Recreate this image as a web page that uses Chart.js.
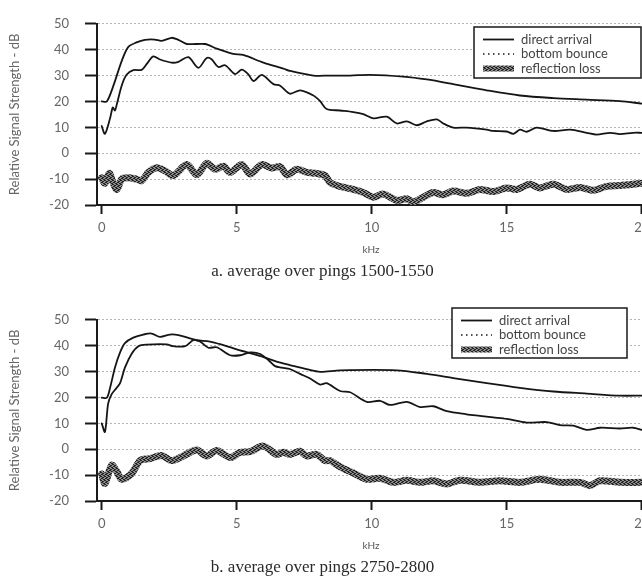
<!DOCTYPE html>
<html>
<head>
<meta charset="utf-8">
<script src="https://cdn.jsdelivr.net/npm/chart.js@4.4.0/dist/chart.umd.min.js"></script>
<style>
html, body { margin: 0; padding: 0; background: #fff; width: 642px; height: 582px; overflow: hidden; }
.panel { position: absolute; left: 0; }
</style>
</head>
<body>
<div class="panel" style="top:0"><canvas id="chartA" width="660" height="291"></canvas></div>
<div class="panel" style="top:296px"><canvas id="chartB" width="660" height="291"></canvas></div>
<script>
// series labels
var seriesNames = ['direct arrival', 'bottom bounce', 'reflection loss'];
var yTicks = [-20, -10, 0, 10, 20, 30, 40, 50];
var xTicks = [0, 5, 10, 15, 20];

// a. pings 1500-1550
var aDirKHz = [0, 0.19, 0.43, 0.74, 0.98, 1.29, 1.6, 1.97, 2.22, 2.59, 2.84, 3.15, 3.83, 4.26, 4.87, 5.24, 5.99, 6.73, 6.97, 7.84, 8.46, 9.2, 9.94, 11.17, 12.04, 13.02, 14.26, 15.49, 16.73, 17.96, 19.19, 20];
var aDirDB = [20, 20, 26, 35.6, 41, 42.8, 43.8, 43.9, 43.4, 44.6, 43.8, 42.2, 42.2, 40.4, 38.4, 38.0, 35.0, 32.7, 31.8, 30.0, 30, 30, 30.3, 29.6, 28.5, 26.7, 24.3, 22.3, 21.3, 20.7, 20.1, 19.2];
var aBncKHz = [0, 0.12, 0.31, 0.41, 0.49, 0.56, 0.74, 0.92, 1.17, 1.48, 1.67, 1.91, 2.16, 2.59, 2.84, 3.21, 3.58, 3.89, 4.07, 4.32, 4.57, 4.94, 5.19, 5.43, 5.62, 5.93, 6.36, 6.61, 6.97, 7.35, 7.84, 8.09, 8.33, 8.83, 9.32, 9.69, 10.06, 10.56, 10.93, 11.3, 11.67, 12.04, 12.41, 12.65, 13.02, 13.51, 14.26, 14.5, 15.0, 15.25, 15.49, 15.74, 16.11, 16.73, 17.35, 17.96, 18.33, 18.83, 19.19, 19.68, 20];
var aBncDB = [10.5, 7.5, 13.5, 17.7, 16.5, 18.9, 26.1, 30.3, 32.1, 32.2, 34.5, 37.4, 36.2, 35.0, 35.3, 37.1, 33.0, 36.8, 36.3, 33.3, 34.0, 30.6, 32.3, 30.5, 27.9, 30.3, 26.7, 26.1, 23.0, 24.3, 22.3, 20.1, 17.1, 16.5, 15.9, 15.1, 13.5, 14.1, 11.5, 12.3, 10.8, 12.3, 13.1, 11.5, 9.9, 9.9, 9.1, 8.6, 8.4, 7.5, 9.1, 8.3, 9.9, 8.6, 9.1, 7.9, 7.2, 7.9, 7.4, 7.9, 7.9];
var aLossKHz = [0, 0.12, 0.28, 0.41, 0.56, 0.74, 0.98, 1.29, 1.48, 1.73, 2.04, 2.35, 2.65, 3.15, 3.52, 3.89, 4.2, 4.51, 4.76, 5.19, 5.5, 5.93, 6.3, 6.61, 6.86, 7.23, 7.59, 7.96, 8.27, 8.46, 8.83, 9.32, 9.69, 10.06, 10.43, 10.93, 11.3, 11.54, 11.91, 12.28, 12.65, 13.02, 13.51, 14.0, 14.5, 15.0, 15.37, 15.86, 16.23, 16.73, 17.23, 17.72, 18.21, 18.7, 19.19, 19.68, 20];
var aLossDB = [-9.5, -11.6, -7.7, -11, -14, -10, -9.5, -10, -10.6, -7.4, -5.6, -6.8, -8.6, -4.4, -8.3, -3.9, -6.2, -5.0, -7.4, -4.4, -8.0, -4.4, -5.7, -5.2, -8.3, -6.2, -7.4, -7.8, -8.6, -11.3, -12.8, -14, -15.2, -17.0, -15.8, -18.2, -17.6, -18.8, -17, -15.2, -16, -14.6, -15.5, -14, -14.8, -13.4, -14, -12, -13.4, -12, -14, -13.2, -14.3, -12.8, -12.5, -12, -11.6];

// b. pings 2750-2800
var bDirKHz = [0, 0.19, 0.31, 0.49, 0.68, 0.86, 1.17, 1.54, 1.85, 2.16, 2.53, 2.84, 3.27, 3.52, 4.01, 4.51, 5.0, 5.5, 5.99, 6.48, 6.97, 7.59, 8.09, 8.83, 10.93, 12.04, 13.02, 14.26, 15.49, 16.73, 17.96, 19.19, 20];
var bDirDB = [19.9, 19.9, 23.7, 31.5, 37.4, 41.0, 43.1, 44.3, 44.7, 43.4, 44.3, 44.1, 42.8, 42.1, 41.6, 40.2, 38.6, 37.1, 35.6, 33.8, 32.5, 30.9, 29.9, 30.5, 30.5, 29.1, 27.5, 25.5, 23.7, 22.3, 21.5, 20.7, 20.7];
var bBncKHz = [0, 0.12, 0.24, 0.37, 0.53, 0.68, 0.86, 1.11, 1.36, 1.67, 2.41, 2.65, 3.09, 3.4, 3.64, 3.95, 4.26, 4.76, 5.13, 5.5, 5.87, 6.18, 6.42, 6.67, 6.97, 7.35, 7.72, 8.09, 8.33, 8.83, 9.2, 9.82, 10.31, 10.68, 11.3, 11.79, 12.28, 12.78, 13.51, 14.0, 14.5, 15.0, 15.74, 16.48, 16.98, 17.47, 17.96, 18.46, 19.19, 19.68, 20];
var bBncDB = [10, 6.7, 17.7, 21.3, 23.4, 25.5, 31.5, 36.9, 39.8, 40.4, 40.5, 39.8, 39.8, 42.2, 41.6, 39.2, 39.4, 36.3, 36.3, 37.4, 36.8, 34.4, 32.1, 31.5, 31.0, 29.1, 27.3, 25.0, 25.5, 22.5, 22.0, 18.3, 18.7, 17.1, 18.3, 16.3, 16.6, 14.7, 13.5, 12.9, 12.3, 11.7, 10.3, 10.5, 9.3, 9.1, 7.5, 8.3, 8.0, 8.3, 7.5];
var bLossKHz = [0, 0.12, 0.37, 0.56, 0.74, 1.11, 1.42, 1.79, 2.22, 2.59, 3.02, 3.52, 3.89, 4.26, 4.76, 5.13, 5.5, 5.99, 6.48, 6.73, 6.97, 7.35, 7.59, 7.96, 8.27, 8.46, 8.83, 9.32, 9.82, 10.31, 10.8, 11.3, 11.79, 12.28, 12.78, 13.27, 14.0, 14.74, 15.49, 16.23, 16.98, 17.72, 18.09, 18.46, 19.19, 20];
var bLossDB = [-9.6, -13.2, -6.2, -8.6, -11.6, -9.4, -4.4, -3.6, -2.4, -4.4, -2.6, -0.3, -2.6, -0.5, -3.2, -1.2, -0.9, 1.2, -2.0, -1.2, -2.0, -0.8, -2.6, -2.0, -4.4, -4.4, -6.8, -9.2, -11.6, -11.2, -12.8, -12.0, -12.8, -12.2, -13.4, -12.0, -12.8, -12.2, -12.8, -11.6, -12.8, -12.8, -14.0, -12.2, -12.8, -12.8];

function toPoints(xs, ys) {
	var pts = [];
	for (var i = 0; i < xs.length; i++) {
		pts.push({ x: xs[i], y: ys[i] });
	}
	return pts;
}

// grainy grey fill for the thick reflection loss line
function hatchPattern() {
	var c = document.createElement('canvas');
	c.width = 4;
	c.height = 4;
	var g = c.getContext('2d');
	g.fillStyle = '#8c8c8c';
	g.fillRect(0, 0, 4, 4);
	g.fillStyle = '#242424';
	g.fillRect(0, 0, 2, 1);
	g.fillRect(2, 1, 2, 1);
	g.fillRect(1, 2, 2, 1);
	g.fillRect(3, 3, 1, 1);
	g.fillRect(0, 3, 1, 1);
	return g.createPattern(c, 'repeat');
}

// boxed legend drawn on top of the lines
var boxLegend = {
	id: 'boxLegend',
	afterDatasetsDraw: function(chart, args, opts) {
		var ctx = chart.ctx;
		ctx.save();
		ctx.fillStyle = '#fff';
		ctx.fillRect(opts.x, opts.y, opts.w, opts.h);
		ctx.strokeStyle = '#1a1a1a';
		ctx.lineWidth = 1.5;
		ctx.strokeRect(opts.x, opts.y, opts.w, opts.h);
		chart.data.datasets.forEach(function(ds, i) {
			var y = opts.y + 12.5 + i * 14.5;
			ctx.beginPath();
			ctx.setLineDash(ds.legendDash || []);
			ctx.strokeStyle = ds.borderColor;
			ctx.lineWidth = ds.legendWidth || ds.borderWidth;
			ctx.moveTo(opts.x + 9, y);
			ctx.lineTo(opts.x + 40, y);
			ctx.stroke();
			ctx.setLineDash([]);
			ctx.fillStyle = '#444';
			ctx.font = '13px Lato';
			ctx.textBaseline = 'middle';
			ctx.fillText(ds.label, opts.x + 47, y);
		});
		ctx.restore();
	}
};

function makePanel(canvasId, caption, dir, bnc, loss, legendBox) {
	var ctx = document.getElementById(canvasId).getContext('2d');
	return new Chart(ctx, {
		type: 'line',
		data: {
			datasets: [{
				label: seriesNames[0],
				data: dir,
				borderColor: '#151515',
				borderWidth: 1.8
			}, {
				label: seriesNames[1],
				data: bnc,
				borderColor: '#151515',
				borderWidth: 1.8,
				legendDash: [1.5, 3.5],
				legendWidth: 1.5
			}, {
				label: seriesNames[2],
				data: loss,
				borderColor: hatchPattern(),
				borderWidth: 7,
				legendWidth: 6
			}]
		},
		options: {
			responsive: false,
			animation: false,
			layout: { padding: { top: 10, right: 15, bottom: 8.8, left: 0 } },
			elements: {
				point: { radius: 0 },
				line: { tension: 0.3, borderCapStyle: 'round', borderJoinStyle: 'round' }
			},
			plugins: {
				legend: { display: false },
				tooltip: { enabled: false },
				title: {
					display: true,
					position: 'bottom',
					text: caption,
					color: '#2a2a2a',
					font: { family: 'Liberation Serif', size: 17, weight: 'normal' },
					padding: { top: 0, bottom: 0 }
				},
				boxLegend: legendBox
			},
			scales: {
				x: {
					type: 'linear',
					min: -0.174,
					max: 20.122,
					afterBuildTicks: function(scale) {
						scale.ticks = xTicks.map(function(v) { return { value: v }; });
					},
					afterFit: function(scale) { scale.height = 56.8; },
					grid: { drawOnChartArea: false, tickLength: 9, tickColor: '#1a1a1a', tickWidth: 2 },
					border: { color: '#1a1a1a', width: 2 },
					ticks: { color: '#666', padding: 6, maxRotation: 0, font: { family: 'Lato', size: 13 } },
					title: {
						display: true,
						text: 'kHz',
						color: '#555',
						font: { family: 'Lato', size: 10 },
						padding: { top: 0, bottom: 5.8 }
					}
				},
				y: {
					min: -20,
					max: 50,
					afterBuildTicks: function(scale) {
						scale.ticks = yTicks.map(function(v) { return { value: v }; });
					},
					afterFit: function(scale) { scale.width = 97; },
					grid: { color: '#b4b4b4', lineWidth: 1, tickLength: 12, tickColor: '#1a1a1a', tickWidth: 2 },
					border: { color: '#1a1a1a', width: 2, dash: [2, 2] },
					ticks: { color: '#666', padding: 16, font: { family: 'Lato', size: 13 } },
					title: {
						display: true,
						text: 'Relative Signal Strength - dB',
						color: '#666',
						font: { family: 'Lato', size: 13 },
						padding: { top: 7, bottom: 0 }
					}
				}
			}
		},
		plugins: [boxLegend]
	});
}

makePanel('chartA', 'a. average over pings 1500-1550',
	toPoints(aDirKHz, aDirDB), toPoints(aBncKHz, aBncDB), toPoints(aLossKHz, aLossDB),
	{ x: 474, y: 27, w: 167, h: 51 });

makePanel('chartB', 'b. average over pings 2750-2800',
	toPoints(bDirKHz, bDirDB), toPoints(bBncKHz, bBncDB), toPoints(bLossKHz, bLossDB),
	{ x: 452, y: 12, w: 175, h: 50 });
</script>
</body>
</html>
